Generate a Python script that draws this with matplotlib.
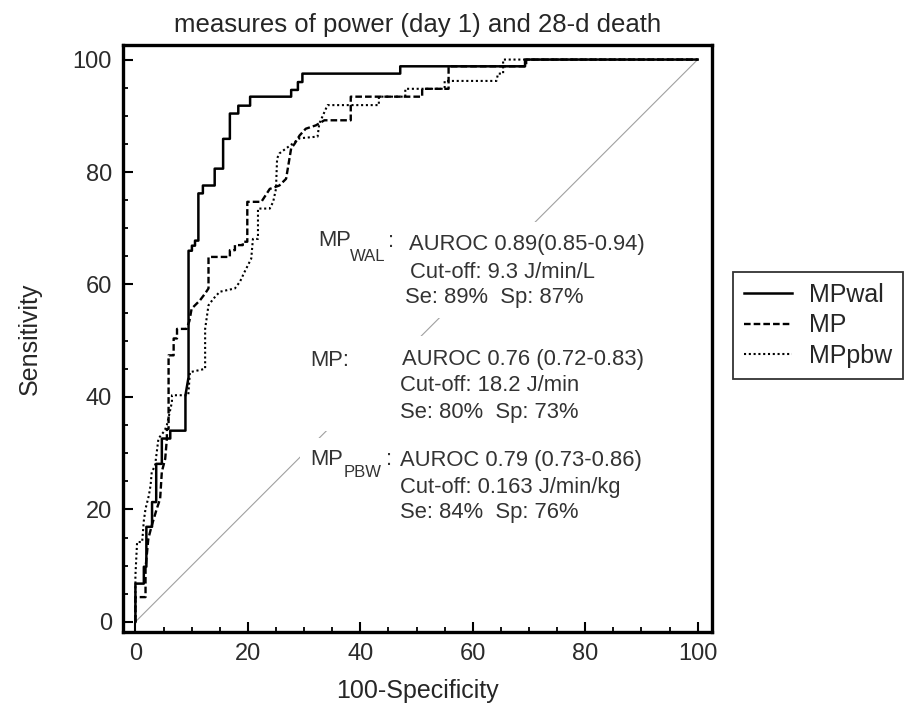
import matplotlib
matplotlib.use('Agg')
import matplotlib.pyplot as plt
from matplotlib.patches import Rectangle
from matplotlib.ticker import MultipleLocator

plt.rcParams['font.family'] = ['Liberation Sans', 'DejaVu Sans']

# ROC curve corners (100-specificity, sensitivity)
mpwal_x = [0, 0, 1.5, 1.5, 1.95, 1.95, 2.96, 2.96, 3.7, 3.7, 4.7, 4.7, 6.2, 6.2,
           8.9, 8.9, 9.45, 9.45, 10.05, 10.05, 10.6, 10.6, 11.2, 11.2, 12.0, 12.0,
           14.1, 14.1, 15.6, 15.6, 16.8, 16.8, 18.3, 18.3, 20.4, 20.4, 27.7, 27.7,
           28.9, 28.9, 29.7, 29.7, 47.1, 47.1, 69.3, 69.3, 100]
mpwal_y = [0, 6.8, 6.8, 9.8, 9.8, 16.9, 16.9, 21.3, 21.3, 28.1, 28.1, 32.6, 32.6, 34.0,
           34.0, 40.3, 43.5, 66.0, 66.0, 66.9, 66.9, 67.8, 67.8, 76.2, 76.2, 77.6,
           77.6, 80.6, 80.6, 85.9, 85.9, 90.4, 90.4, 91.8, 91.8, 93.4, 93.4, 94.6,
           94.6, 96.0, 96.0, 97.5, 97.5, 98.8, 98.8, 100, 100]

mp_x = [0, 0, 1.8, 1.8, 2.3, 2.9, 3.8, 4.4, 4.7, 5.3, 5.6, 5.6, 5.9, 5.9, 6.8, 6.8,
        7.4, 7.4, 9.1, 9.6, 10.0, 11.5, 12.4, 13.0, 13.0, 16.8, 16.8, 17.7, 17.7,
        19.1, 19.1, 19.9, 19.9, 22.4, 23.9, 25.6, 26.8, 27.4, 27.7, 28.3, 29.2,
        30.3, 32.1, 33.6, 38.3, 38.3, 51.0, 51.0, 55.7, 55.7, 69.5, 69.5, 100]
mp_y = [0, 4.4, 4.4, 9.5, 14.8, 17.1, 20.1, 21.9, 26.7, 29.0, 32.6, 34.3, 34.3, 47.4,
        47.4, 50.4, 50.4, 52.1, 52.1, 53.5, 55.7, 57.2, 58.4, 59.3, 64.9, 64.9,
        66.1, 66.1, 67.0, 67.0, 67.6, 67.6, 74.7, 74.7, 77.0, 77.6, 78.8, 82.4,
        84.2, 85.0, 86.5, 87.7, 88.3, 89.2, 89.2, 93.4, 93.4, 94.8, 94.8, 98.8,
        98.8, 100, 100]

mppbw_x = [0, 0, 0.3, 1.2, 1.5, 1.8, 2.4, 2.7, 2.9, 3.5, 3.8, 4.1, 5.2, 5.6, 6.5,
           6.5, 9.4, 9.7, 12.4, 12.4, 13.0, 13.9, 15.0, 17.7, 18.6, 19.4, 20.0,
           20.6, 20.9, 21.8, 21.8, 23.9, 24.5, 25.0, 25.2, 25.6, 26.8, 27.9, 29.2,
           32.4, 32.7, 33.9, 34.2, 43.3, 43.3, 48.0, 48.0, 55.0, 55.0, 64.2, 64.5,
           65.4, 65.4, 100]
mppbw_y = [0, 8.2, 14.2, 14.2, 18.0, 20.1, 22.5, 24.3, 26.6, 27.8, 30.2, 32.6, 34.0,
           35.0, 39.1, 40.3, 40.3, 44.4, 45.0, 52.1, 56.3, 57.5, 58.7, 59.3, 60.5,
           62.2, 63.4, 64.6, 68.1, 68.1, 73.5, 73.5, 74.7, 77.0, 82.4, 83.3, 84.2,
           85.0, 86.0, 86.3, 88.6, 91.3, 91.9, 91.9, 93.4, 93.4, 94.8, 94.8, 96.2,
           96.2, 97.5, 97.5, 100, 100]

series_labels = ['MPwal', 'MP', 'MPpbw']

names = ['MP', 'MP:', 'MP']
subs = ['WAL', '', 'PBW']
auroc = ['AUROC 0.89(0.85-0.94)', 'AUROC 0.76 (0.72-0.83)', 'AUROC 0.79 (0.73-0.86)']
cutoff = ['Cut-off: 9.3 J/min/L', 'Cut-off: 18.2 J/min', 'Cut-off: 0.163 J/min/kg']
sesp = ['Se: 89%  Sp: 87%', 'Se: 80%  Sp: 73%', 'Se: 84%  Sp: 76%']

fig = plt.figure(figsize=(9.23, 7.10), dpi=100)
ax = fig.add_axes([0.1333, 0.1099, 0.6378, 0.8268])

ax.plot([0, 100], [0, 100], color='#a0a0a0', lw=0.8, zorder=1)

ax.plot(mpwal_x, mpwal_y, color='black', lw=1.8, ls='-', label=series_labels[0], zorder=3)
ax.plot(mp_x, mp_y, color='black', lw=1.7, ls=(0, (2.8, 1.3)), label=series_labels[1], zorder=3)
ax.plot(mppbw_x, mppbw_y, color='black', lw=1.5, ls=(0, (1, 1.3)), label=series_labels[2], zorder=3)

# white boxes behind the annotation blocks (they hide the diagonal)
box_y = [(54.0, 71.1), (33.9, 50.8), (16.3, 32.7)]
for y0, y1 in box_y:
    ax.add_patch(Rectangle((29.2, y0), 63, y1 - y0, facecolor='white',
                           edgecolor='none', zorder=2))

txt = dict(fontsize=15.8, color='#333333', va='baseline', zorder=4)
name_pos = [(32.5, 66.9), (31.1, 45.5), (31.1, 27.9)]
sub_pos = [(38.2, 64.1), None, (37.0, 25.8)]
colon_pos = [(45.0, 66.7), None, (44.5, 27.9)]
line_pos = [[(48.6, 66.1), (48.9, 61.2), (48.0, 56.7)],
            [(47.5, 45.7), (47.1, 41.1), (47.1, 36.3)],
            [(47.1, 27.7), (47.1, 22.9), (47.1, 18.5)]]
for i in range(3):
    ax.text(name_pos[i][0], name_pos[i][1], names[i], **txt)
    if subs[i]:
        ax.text(sub_pos[i][0], sub_pos[i][1], subs[i], fontsize=12, color='#333333',
                va='baseline', zorder=4)
        ax.text(colon_pos[i][0], colon_pos[i][1], ':', **txt)
    for (x, y), s in zip(line_pos[i], [auroc[i], cutoff[i], sesp[i]]):
        ax.text(x, y, s, **txt)

ax.set_xlim(-2.2, 102.5)
ax.set_ylim(-1.8, 102.6)
ax.xaxis.set_major_locator(MultipleLocator(20))
ax.xaxis.set_minor_locator(MultipleLocator(5))
ax.yaxis.set_major_locator(MultipleLocator(20))
ax.yaxis.set_minor_locator(MultipleLocator(5))
ax.tick_params(which='major', direction='in', length=7, width=1.5, pad=8,
               labelsize=17, labelcolor='#2b2b2b')
ax.tick_params(which='minor', direction='in', length=3.5, width=1.3)
for sp in ax.spines.values():
    sp.set_linewidth(2.4)

ax.set_title('measures of power (day 1) and 28-d death', fontsize=18.5, color='#262626', pad=9)
ax.set_xlabel('100-Specificity', fontsize=18, color='#262626', labelpad=10)
ax.set_ylabel('Sensitivity', fontsize=18, color='#262626', labelpad=22)

leg = fig.legend(loc='upper left', bbox_to_anchor=(0.794, 0.617), fontsize=18,
                 frameon=True, fancybox=False, handlelength=1.9, handletextpad=0.7,
                 labelspacing=0.25, borderpad=0.45, borderaxespad=0)
leg.get_frame().set_edgecolor('black')
leg.get_frame().set_linewidth(1.3)
for t in leg.get_texts():
    t.set_color('#262626')

fig.savefig('out.png', dpi=100)
